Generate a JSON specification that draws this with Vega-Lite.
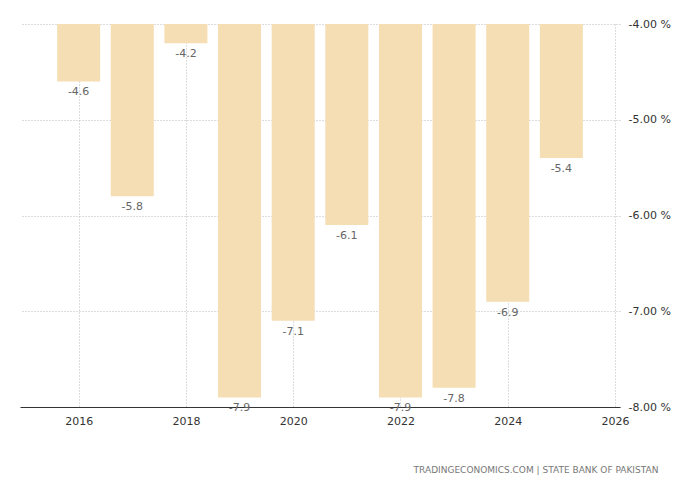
{
"$schema":"https://vega.github.io/schema/vega-lite/v6.json",
"width":600,"height":383,
"autosize":"none",
"padding":{"left":20,"top":24,"right":80,"bottom":73},
"background":"white",
"config":{"view":{"stroke":null},"font":"DejaVu Sans","locale":{"number":{"decimal":".","thousands":",","grouping":[3],"currency":["$",""],"minus":"-"}}},
"title":{"text":"TRADINGECONOMICS.COM  |  STATE BANK OF PAKISTAN","orient":"bottom","anchor":"end","fontSize":9,"color":"#777","fontWeight":"normal","offset":40,"dx":-12},
"data":{"values":[
{"year":2016,"v":-4.6},{"year":2017,"v":-5.8},{"year":2018,"v":-4.2},{"year":2019,"v":-7.9},{"year":2020,"v":-7.1},
{"year":2021,"v":-6.1},{"year":2022,"v":-7.9},{"year":2023,"v":-7.8},{"year":2024,"v":-6.9},{"year":2025,"v":-5.4}]},
"encoding":{
"x":{"field":"year","type":"quantitative","scale":{"domain":[2015,2026]},
"axis":{"values":[2016,2018,2020,2022,2024,2026],"format":"d","title":null,"grid":true,"gridDash":[1,2],"gridColor":"#bbb","domain":true,"domainColor":"#333","ticks":false,"labelColor":"#333","labelFontSize":11,"labelPadding":8}}
},
"layer":[
{"mark":{"type":"bar","width":43,"color":"#f5deb3"},
"encoding":{"y":{"field":"v","type":"quantitative","scale":{"domain":[-8,-4],"nice":false},
"axis":{"orient":"right","values":[-8,-7,-6,-5,-4],"format":".2f","labelExpr":"datum.label+' %'","title":null,"grid":true,"gridDash":[1,2],"gridColor":"#bbb","domain":false,"ticks":false,"labelColor":"#333","labelFontSize":11,"labelPadding":8}},
"y2":{"datum":-4}}},
{"mark":{"type":"text","dy":11,"color":"#666","fontSize":11},
"encoding":{"y":{"field":"v","type":"quantitative"},"text":{"field":"v","type":"quantitative","format":".1f"}}}
]
}
